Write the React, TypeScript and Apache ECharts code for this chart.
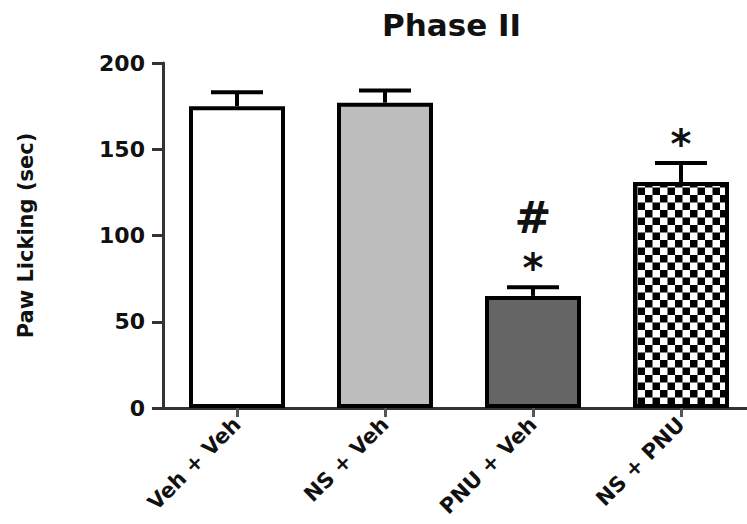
import React, { useEffect, useRef } from "react";
import * as echarts from "echarts";

const categories = ["Veh + Veh", "NS + Veh", "PNU + Veh", "NS + PNU"];
const meanValues = [175, 177, 65, 131];
const upperErrorValues = [183, 184, 70, 142];
const starMarks = ["", "", "*", "*"];
const hashMarks = ["", "", "#", ""];
const yTicks = { min: 0, max: 200, interval: 50 };

function makeChecker(): HTMLCanvasElement {
  const c = document.createElement("canvas");
  c.width = 30;
  c.height = 30;
  const ctx = c.getContext("2d")!;
  ctx.fillStyle = "#ffffff";
  ctx.fillRect(0, 0, 30, 30);
  ctx.fillStyle = "#000000";
  ctx.fillRect(0, 0, 15, 15);
  ctx.fillRect(15, 15, 15, 15);
  return c;
}

export default function App() {
  const ref = useRef<HTMLDivElement>(null);
  useEffect(() => {
    if (!ref.current) return;
    const chart = echarts.init(ref.current, null, { renderer: "svg" });
    const checker = makeChecker();
    const fills: any[] = [
      "#ffffff",
      "#bdbdbd",
      "#656565",
      { image: checker, repeat: "repeat", imageWidth: 15, imageHeight: 15 },
    ];
    const option: any = {
      animation: false,
      backgroundColor: "#ffffff",
      title: {
        text: "Phase II",
        left: 382,
        top: 9,
        padding: 0,
        textStyle: {
          fontFamily: "DejaVu Sans",
          fontWeight: "bold",
          fontSize: 31,
          color: "#111",
        },
      },
      grid: {
        left: 163,
        right: -8,
        top: 63,
        bottom: 116,
        containLabel: false,
        outerBoundsMode: "none",
      },
      xAxis: {
        type: "category",
        data: categories,
        axisLine: { show: true, lineStyle: { color: "#333", width: 3 } },
        axisTick: { show: true, alignWithLabel: true, length: 9, lineStyle: { color: "#555", width: 3 } },
        axisLabel: {
          rotate: 45,
          margin: 13,
          fontFamily: "DejaVu Sans",
          fontWeight: "bold",
          fontSize: 21,
          color: "#111",
        },
      },
      yAxis: {
        type: "value",
        min: yTicks.min,
        max: yTicks.max,
        interval: yTicks.interval,
        name: "Paw Licking (sec)",
        nameLocation: "middle",
        nameGap: 127,
        nameRotate: 90,
        nameTextStyle: { fontFamily: "DejaVu Sans", fontWeight: "bold", fontSize: 21, color: "#111" },
        splitLine: { show: false },
        axisLine: { show: true, lineStyle: { color: "#333", width: 3 } },
        axisTick: { show: true, length: 11, lineStyle: { color: "#333", width: 3 } },
        axisLabel: {
          margin: 18,
          fontFamily: "DejaVu Sans",
          fontWeight: "bold",
          fontSize: 22,
          color: "#111",
        },
      },
      series: [
        {
          type: "bar",
          barWidth: 96,
          data: meanValues.map((v, i) => ({
            value: v,
            itemStyle: { color: fills[i], borderColor: "#000", borderWidth: 4 },
          })),
          z: 2,
        },
        {
          type: "custom",
          z: 5,
          data: categories.map((c, i) => [i, meanValues[i], upperErrorValues[i]]),
          renderItem: (params: any, api: any) => {
            const i = params.dataIndex;
            const x = api.value(0);
            const p0 = api.coord([x, api.value(1)]);
            const p1 = api.coord([x, api.value(2)]);
            const children: any[] = [
              {
                type: "line",
                shape: { x1: p0[0], y1: p0[1], x2: p1[0], y2: p1[1] },
                style: { stroke: "#000", lineWidth: 4 },
              },
              {
                type: "line",
                shape: { x1: p1[0] - 26, y1: p1[1], x2: p1[0] + 26, y2: p1[1] },
                style: { stroke: "#000", lineWidth: 4 },
              },
            ];
            if (starMarks[i]) {
              children.push({
                type: "text",
                style: {
                  text: starMarks[i],
                  x: p1[0],
                  y: p1[1] - 19,
                  fontFamily: "DejaVu Sans",
                  fontWeight: "bold",
                  fontSize: 40,
                  fill: "#111",
                  align: "center",
                  verticalAlign: "middle",
                },
              });
            }
            if (hashMarks[i]) {
              children.push({
                type: "text",
                style: {
                  text: hashMarks[i],
                  x: p1[0],
                  y: p1[1] - 70,
                  fontFamily: "DejaVu Sans",
                  fontWeight: "bold",
                  fontSize: 44,
                  fill: "#111",
                  align: "center",
                  verticalAlign: "middle",
                },
              });
            }
            return { type: "group", children };
          },
        },
      ],
    };
    chart.setOption(option);
    return () => chart.dispose();
  }, []);
  return <div ref={ref} style={{ width: 747, height: 524, position: "absolute", left: 0, top: 0 }} />;
}
